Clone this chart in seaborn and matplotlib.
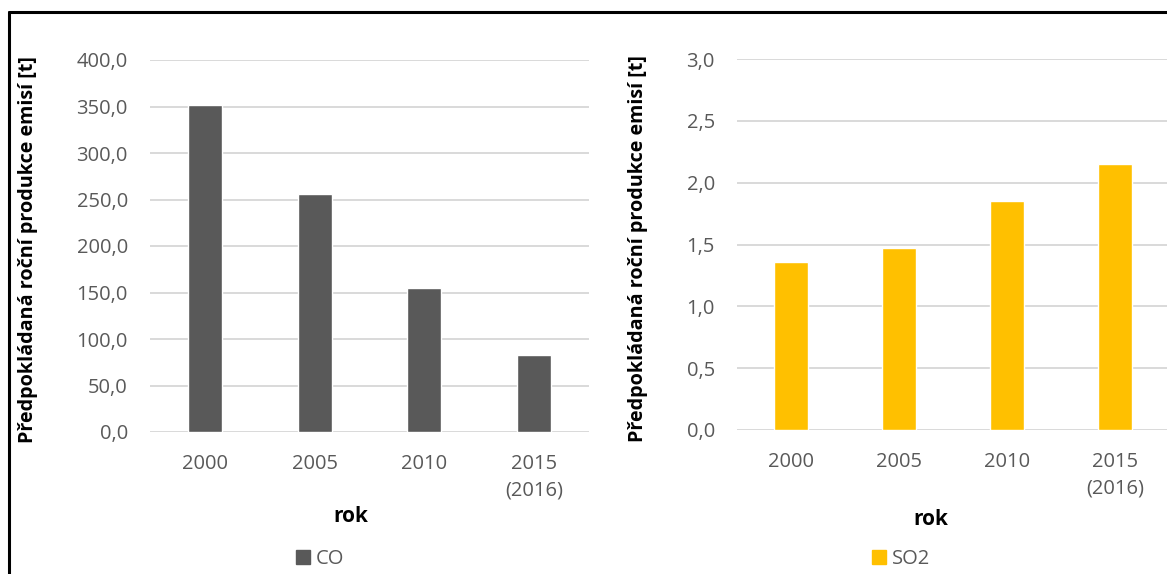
import matplotlib
matplotlib.use("Agg")
import matplotlib.pyplot as plt
from matplotlib.lines import Line2D
from matplotlib.patches import Patch
from matplotlib.ticker import FuncFormatter, MultipleLocator
import seaborn as sns
import pandas as pd

# Data
years = ["2000", "2005", "2010", "2015\n(2016)"]
co_values = [351.5, 256.0, 155.0, 83.0]
so2_values = [1.36, 1.47, 1.85, 2.15]

ylabel = "Předpokládaná roční produkce emisí [t]"
xlabel = "rok"
co_color = "#595959"
so2_color = "#FFC000"
grid_color = "#D9D9D9"
text_grey = "#595959"

sns.set_theme(style="white")
plt.rcParams["font.family"] = ["Open Sans", "DejaVu Sans"]

W, H = 1167, 574
fig = plt.figure(figsize=(W / 100, H / 100), dpi=100)
fig.patch.set_facecolor("white")


def fig_rect(x0, x1, ytop, ybot):
    return [x0 / W, (H - ybot) / H, (x1 - x0) / W, (ybot - ytop) / H]


ax1 = fig.add_axes(fig_rect(150, 589, 60, 432))
ax2 = fig.add_axes(fig_rect(737, 1169, 59, 430))

df_co = pd.DataFrame({"rok": years, "hodnota": co_values})
df_so2 = pd.DataFrame({"rok": years, "hodnota": so2_values})

sns.barplot(data=df_co, x="rok", y="hodnota", color=co_color, saturation=1,
            width=0.31, ax=ax1)
sns.barplot(data=df_so2, x="rok", y="hodnota", color=so2_color, saturation=1,
            width=0.31, ax=ax2)


def comma_fmt(v, _):
    return f"{v:.1f}".replace(".", ",")


settings = [
    (ax1, 400, 50, -0.255, 0.458, -0.200, co_color, "CO", 0.274),
    (ax2, 3.0, 0.5, -0.206, 0.449, -0.212, so2_color, "SO2", 0.772),
]

for ax, ymax, step, ylx, xlx, xly, color, name, legx in settings:
    ax.set_ylim(0, ymax)
    ax.set_xlim(-0.5, 3.5)
    ax.yaxis.set_major_locator(MultipleLocator(step))
    ax.yaxis.set_major_formatter(FuncFormatter(comma_fmt))
    ax.set_axisbelow(True)
    ax.yaxis.grid(True, color=grid_color, linewidth=1.4)
    ax.xaxis.grid(False)
    for s in ax.spines.values():
        s.set_visible(False)
    ax.tick_params(axis="both", length=0, labelsize=14.5, colors=text_grey)
    ax.tick_params(axis="y", pad=16)
    ax.tick_params(axis="x", pad=16)
    for lbl in ax.get_xticklabels():
        lbl.set_linespacing(1.45)
    ax.set_ylabel(ylabel, fontsize=14.2, fontweight="bold", color="black")
    ax.yaxis.set_label_coords(ylx, 0.49)
    ax.set_xlabel(xlabel, fontsize=15, fontweight="bold", color="black")
    ax.xaxis.set_label_coords(xlx, xly)
    ax.set_facecolor("white")
    fig.legend(handles=[Patch(facecolor=color, edgecolor=color, label=name)],
               loc="center", bbox_to_anchor=(legx, 15 / H), frameon=False,
               fontsize=14.5, labelcolor=text_grey, handlelength=0.7,
               handleheight=0.7, handletextpad=0.3, borderpad=0,
               borderaxespad=0)

# Outer frame lines (left and top edges)
fx = 8.5 / W
fy = (H - 11.5) / H
fig.add_artist(Line2D([fx, fx], [0, fy], transform=fig.transFigure,
                      color="black", linewidth=2.2))
fig.add_artist(Line2D([fx, 1], [fy, fy], transform=fig.transFigure,
                      color="black", linewidth=2.2))

fig.savefig("out.png", dpi=100, facecolor="white")
